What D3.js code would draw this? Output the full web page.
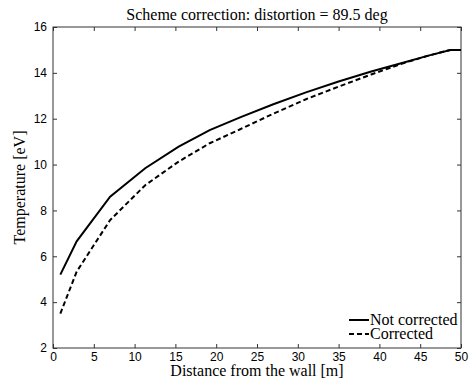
<!DOCTYPE html>
<html><head><meta charset="utf-8">
<script src="https://cdn.jsdelivr.net/npm/d3@7"></script>
<style>body{margin:0;background:#fff}svg{display:block}</style>
</head><body>
<script>
const distance = [0.9, 2.9, 7, 11.3, 15.4, 19.2, 23, 27, 31, 35, 39, 43, 46, 48.7, 50];
const notCorrected = [5.2, 6.65, 8.6, 9.84, 10.78, 11.5, 12.07, 12.63, 13.15, 13.62, 14.06, 14.45, 14.75, 15.0, 15.0];
const corrected = [3.5, 5.33, 7.58, 9.1, 10.13, 10.93, 11.55, 12.22, 12.85, 13.4, 13.93, 14.43, 14.75, 15.0, 15.0];
const xTicks = [0, 5, 10, 15, 20, 25, 30, 35, 40, 45, 50];
const yTicks = [2, 4, 6, 8, 10, 12, 14, 16];
const titleText = "Scheme correction: distortion = 89.5 deg";
const xLabel = "Distance from the wall [m]";
const yLabel = "Temperature [eV]";
const seriesNames = ["Not corrected", "Corrected"];

const W = 472, H = 379;
const m = {l: 53, r: 11, t: 27, b: 31};
const svg = d3.select("body").append("svg").attr("width", W).attr("height", H);
const x = d3.scaleLinear().domain([0, 50]).range([m.l, W - m.r]);
const y = d3.scaleLinear().domain([2, 16]).range([H - m.b, m.t]);
const axisCol = "#333";
const tickFont = "'Liberation Sans', Arial, sans-serif";
const serif = "'Liberation Serif', 'Times New Roman', serif";

function styleAxis(g, showLabels) {
  g.select(".domain").remove();
  g.selectAll("line").attr("stroke", axisCol);
  g.selectAll("text").attr("fill", "#000").style("font-family", tickFont).style("font-size", "12px");
  if (!showLabels) g.selectAll("text").remove();
}
svg.append("g").attr("transform", `translate(0,${H - m.b})`)
  .call(d3.axisBottom(x).tickValues(xTicks).tickSizeInner(-4).tickSizeOuter(0).tickPadding(4))
  .call(g => styleAxis(g, true));
svg.append("g").attr("transform", `translate(0,${m.t})`)
  .call(d3.axisTop(x).tickValues(xTicks).tickSizeInner(-4).tickSizeOuter(0))
  .call(g => styleAxis(g, false));
svg.append("g").attr("transform", `translate(${m.l},0)`)
  .call(d3.axisLeft(y).tickValues(yTicks).tickSizeInner(-4).tickSizeOuter(0).tickPadding(6))
  .call(g => styleAxis(g, true));
svg.append("g").attr("transform", `translate(${W - m.r},0)`)
  .call(d3.axisRight(y).tickValues(yTicks).tickSizeInner(-4).tickSizeOuter(0))
  .call(g => styleAxis(g, false));
svg.append("rect").attr("x", m.l).attr("y", m.t).attr("width", W - m.l - m.r).attr("height", H - m.t - m.b)
  .attr("fill", "none").attr("stroke", axisCol).attr("stroke-width", 1);

const line = d3.line().x((d, i) => x(distance[i])).y(d => y(d));
svg.append("path").datum(notCorrected).attr("d", line).attr("fill", "none")
  .attr("stroke", "#000").attr("stroke-width", 2);
svg.append("path").datum(corrected).attr("d", line).attr("fill", "none")
  .attr("stroke", "#000").attr("stroke-width", 2).attr("stroke-dasharray", "5,3");

svg.append("text").attr("x", (m.l + W - m.r) / 2).attr("y", 20).attr("text-anchor", "middle")
  .style("font-family", serif).style("font-size", "16px").text(titleText);
svg.append("text").attr("x", (m.l + W - m.r) / 2).attr("y", 375.5).attr("text-anchor", "middle")
  .style("font-family", serif).style("font-size", "16px").text(xLabel);
svg.append("text").attr("transform", `translate(25,${(m.t + H - m.b) / 2}) rotate(-90)`).attr("text-anchor", "middle")
  .style("font-family", serif).style("font-size", "16px").text(yLabel);

const leg = svg.append("g");
[[320, null], [334, "5,3"]].forEach(([ly, dash], i) => {
  leg.append("line").attr("x1", 349).attr("x2", 369).attr("y1", ly).attr("y2", ly)
    .attr("stroke", "#000").attr("stroke-width", 2).attr("stroke-dasharray", dash);
  leg.append("text").attr("x", 370).attr("y", ly + 4.5).style("font-family", serif).style("font-size", "16px")
    .text(seriesNames[i]);
});
</script>
</body></html>
